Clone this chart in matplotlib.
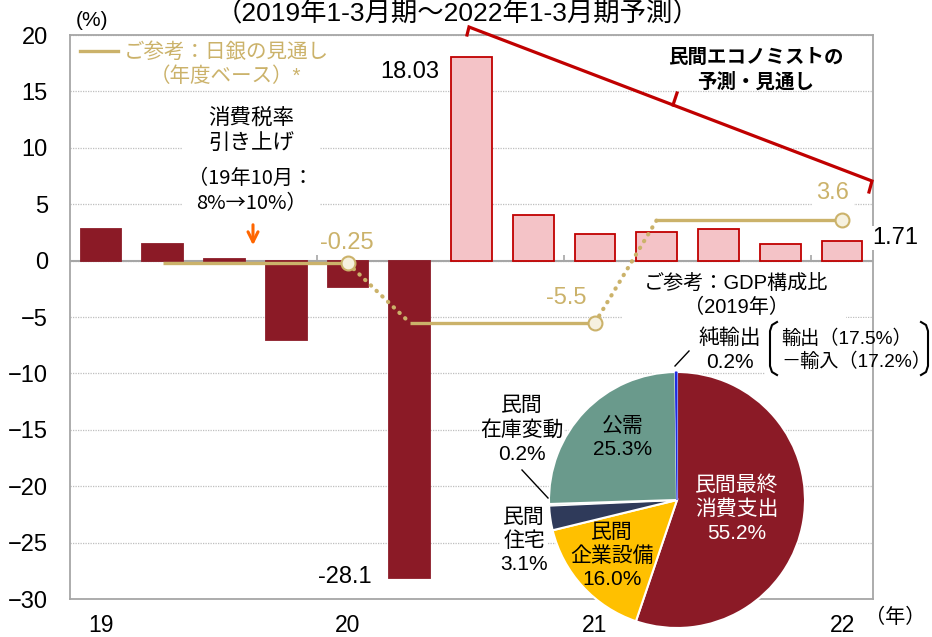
import matplotlib
matplotlib.use('Agg')
import matplotlib.pyplot as plt
from matplotlib.patches import Rectangle
from matplotlib.lines import Line2D
import matplotlib.transforms as mtransforms

plt.rcParams['font.family'] = ['Liberation Sans', 'Noto Sans CJK JP']

# ---------------- data ----------------
quarters = ['2019Q1', '2019Q2', '2019Q3', '2019Q4', '2020Q1', '2020Q2', '2020Q3',
            '2020Q4', '2021Q1', '2021Q2', '2021Q3', '2021Q4', '2022Q1']
gdp_growth = [2.8, 1.5, 0.1, -7.0, -2.3, -28.1, 18.03, 4.0, 2.4, 2.5, 2.8, 1.5, 1.71]
n_actual = 6
year_labels = ['19', '20', '21', '22']
year_label_idx = [0, 4, 8, 12]
year_boundaries = [3.5, 7.5, 11.5]

boj_fy = ['2019年度', '2020年度', '2021年度']
boj_outlook = [-0.25, -5.5, 3.6]
boj_start = [1, 5, 9]
boj_end = [4, 8, 12]

pie_labels = ['民間最終\n消費支出', '民間\n企業設備', '民間\n住宅', '民間\n在庫変動', '公需', '純輸出']
pie_shares = [55.2, 16.0, 3.1, 0.2, 25.3, 0.2]
pie_colors = ['#8B1A26', '#FFC000', '#2F3A5A', '#D0D0D0', '#6A9A8C', '#1F2BE0']

# ---------------- style ----------------
WPX, HPX = 932, 637
DARK = '#8B1A26'
PINK = '#F4C3C7'
RED = '#C00000'
GOLD = '#CBB26A'
GRAY = '#A6A6A6'


def F(x, y):
    return (x / WPX, 1 - y / HPX)


fig = plt.figure(figsize=(WPX / 100, HPX / 100), dpi=100)
ax = fig.add_axes([70 / WPX, 1 - 599 / HPX, (873 - 70) / WPX, (599 - 35) / HPX])
ax.set_axisbelow(True)

x = list(range(len(quarters)))
colors = [DARK if i < n_actual else PINK for i in x]
edges = [DARK if i < n_actual else RED for i in x]
ax.bar(x, gdp_growth, width=0.66, color=colors, edgecolor=edges, linewidth=1.3, zorder=2)

ax.set_xlim(-0.5, len(quarters) - 0.5)
ax.set_ylim(-30, 20)
ax.set_yticks(range(-30, 21, 5))
ax.tick_params(axis='y', length=0, pad=16, labelsize=17)
ax.set_xticks([])
ax.yaxis.grid(True, linestyle=(0, (1, 1)), color='#BFBFBF', linewidth=0.9)
for s in ax.spines.values():
    s.set_color(GRAY)
    s.set_linewidth(1.3)
ax.axhline(0, color=GRAY, linewidth=1.5, zorder=1.8)
ax.vlines(year_boundaries, 0, 0.5, color=GRAY, linewidth=1.2, zorder=1.8)

# year labels below
trans = mtransforms.blended_transform_factory(ax.transData, fig.transFigure)
for i, lab in zip(year_label_idx, year_labels):
    ax.text(i, 5 / HPX, lab, transform=trans, ha='center', va='baseline', fontsize=16.5, clip_on=False)
fig.text(*F(895, 617), '（年）', ha='center', va='center', fontsize=14.5)
fig.text(*F(92, 21), '(%)', ha='center', va='center', fontsize=15)

# BOJ outlook line
for k in range(len(boj_outlook)):
    ax.plot([boj_start[k], boj_end[k]], [boj_outlook[k]] * 2, color=GOLD, lw=2.4,
            solid_capstyle='butt', zorder=3)
    ax.plot([boj_end[k]], [boj_outlook[k]], marker='o', ms=10, mfc='#F6F1DF', mec=GOLD,
            mew=1.5, zorder=4)
    if k + 1 < len(boj_outlook):
        ax.plot([boj_end[k], boj_start[k + 1]], [boj_outlook[k], boj_outlook[k + 1]],
                color=GOLD, lw=3, linestyle=(0, (0.1, 1.8)), dash_capstyle='round', zorder=3)

# white covers
for (x0, y0, x1, y1) in [(183, 100, 320, 222), (622, 268, 846, 322), (765, 318, 932, 378)]:
    fx0, fy1 = F(x0, y0)
    fx1, fy0 = F(x1, y1)
    ax.add_patch(Rectangle((fx0, fy0), fx1 - fx0, fy1 - fy0, transform=fig.transFigure,
                           facecolor='white', edgecolor='none', zorder=1, clip_on=False))

# value labels
fig.text(*F(410, 72), f'{gdp_growth[6]:.2f}', ha='center', va='center', fontsize=17)
fig.text(*F(345, 577), f'{gdp_growth[5]:.1f}', ha='center', va='center', fontsize=17)
fig.text(*F(895, 238), f'{gdp_growth[12]:.2f}', ha='center', va='center', fontsize=17,
         bbox=dict(facecolor='white', edgecolor='none', pad=1))
fig.text(*F(347, 243), f'{boj_outlook[0]}', ha='center', va='center', fontsize=17, color=GOLD)
fig.text(*F(566, 298), f'{boj_outlook[1]}', ha='center', va='center', fontsize=17, color=GOLD)
fig.text(*F(833, 193), f'{boj_outlook[2]}', ha='center', va='center', fontsize=17, color=GOLD,
         bbox=dict(facecolor='white', edgecolor='none', pad=3))

# legend
fig.add_artist(Line2D([80 / WPX, 118 / WPX], [1 - 51 / HPX] * 2, color=GOLD, lw=2.4))
fig.text(*F(124, 52), 'ご参考：日銀の見通し', ha='left', va='center', fontsize=14.8, color=GOLD)
fig.text(*F(226, 76), '（年度ベース）*', ha='center', va='center', fontsize=14.8, color=GOLD)

# consumption tax annotation
fig.text(*F(251, 131), '消費税率\n引き上げ', ha='center', va='center', fontsize=15.5, linespacing=1.25)
fig.text(*F(251, 191), '（19年10月：\n8%→10%）', ha='center', va='center', fontsize=14.5,
         linespacing=1.3, family=['Noto Sans CJK JP'])
ax.annotate('', xy=F(253, 248), xytext=F(253, 222), xycoords='figure fraction',
            arrowprops=dict(arrowstyle='->', color='#FF6600', lw=2.2, mutation_scale=18))

# title
fig.text(*F(458, 21), '（2019年1-3月期～2022年1-3月期予測）', ha='center', va='baseline', fontsize=19)

# red bracket
bx = [467, 469, 872, 869]
by = [35, 27, 181, 192]
fig.add_artist(Line2D([v / WPX for v in bx], [1 - v / HPX for v in by], color=RED, lw=2.3,
                      solid_joinstyle='miter'))
fig.add_artist(Line2D([673 / WPX, 677 / WPX], [1 - 105 / HPX, 1 - 93 / HPX], color=RED, lw=2.3))
fig.text(*F(756, 70), '民間エコノミストの\n予測・見通し', ha='center', va='center', fontsize=14,
         fontweight='bold', linespacing=1.35)

# outside pie labels drawn in main axes (below the pie inset)
fs = 15
ax.text(*F(524, 541), f'{pie_labels[2]}\n{pie_shares[2]}%', transform=fig.transFigure,
        ha='center', va='center', fontsize=fs, linespacing=1.3, zorder=5, clip_on=False,
        bbox=dict(facecolor='white', edgecolor='none', pad=0))
ax.text(*F(522, 430), f'{pie_labels[3]}\n{pie_shares[3]}%', transform=fig.transFigure,
        ha='center', va='center', fontsize=fs, linespacing=1.3, zorder=5, clip_on=False,
        bbox=dict(facecolor='white', edgecolor='none', pad=0))

# pie inset
pax = fig.add_axes([(677 - 128) / WPX, 1 - (500 + 128) / HPX, 256 / WPX, 256 / HPX])
pax.set_facecolor('none')
wedges, _ = pax.pie(pie_shares, colors=pie_colors, startangle=90, counterclock=False,
                    wedgeprops=dict(edgecolor='white', linewidth=1.5), radius=1)
wedges[5].set_edgecolor(pie_colors[5])
wedges[5].set_linewidth(0.8)
wedges[3].set_linewidth(0.5)
pax.set_xlim(-1, 1)
pax.set_ylim(-1, 1)
pax.set_aspect('equal')
pax.axis('off')

fig.text(*F(737, 509), f'{pie_labels[0]}\n{pie_shares[0]}%', ha='center', va='center', fontsize=fs,
         color='white', linespacing=1.3)
fig.text(*F(623, 438), f'{pie_labels[4]}\n{pie_shares[4]}%', ha='center', va='center', fontsize=fs,
         linespacing=1.3)
fig.text(*F(612, 556), f'{pie_labels[1]}\n{pie_shares[1]}%', ha='center', va='center', fontsize=fs,
         linespacing=1.3)
fig.add_artist(Line2D([522 / WPX, 548 / WPX], [1 - 470 / HPX, 1 - 498 / HPX], color='black', lw=1))
fig.text(*F(730, 350), f'{pie_labels[5]}\n{pie_shares[5]}%', ha='center', va='center', fontsize=fs,
         linespacing=1.3)
fig.add_artist(Line2D([675 / WPX, 689 / WPX], [1 - 366 / HPX, 1 - 351 / HPX], color='black', lw=1))
fig.text(*F(781, 350), '輸出（17.5%）\n－輸入（17.2%）', ha='left', va='center', fontsize=13.8,
         linespacing=1.35)
lb = [(777, 322), (772, 325), (770, 331), (770, 366), (772, 372), (777, 375)]
rb = [(921, 322), (926, 325), (928, 331), (928, 366), (926, 372), (921, 375)]
for pts in (lb, rb):
    fig.add_artist(Line2D([p[0] / WPX for p in pts], [1 - p[1] / HPX for p in pts], color='black', lw=1.5))
fig.text(*F(736, 296), 'ご参考：GDP構成比\n（2019年）', ha='center', va='center', fontsize=14.5,
         linespacing=1.3)

fig.savefig('out.png', dpi=100)
